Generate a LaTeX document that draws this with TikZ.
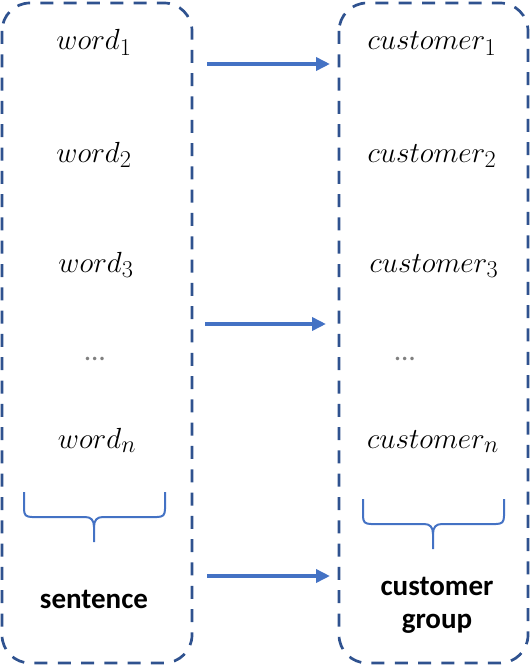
\documentclass[tikz,border=0pt]{standalone}
\usepackage{amsmath}
\usepackage{fontspec}
\newfontfamily\labelfont{Carlito}
\usetikzlibrary{arrows.meta}
\definecolor{boxblue}{HTML}{2F528F}
\definecolor{arrowblue}{HTML}{4472C4}

\begin{document}
\begin{tikzpicture}[x=1pt, y=-1pt,
groupbox/.style={boxblue, line width=2.7pt, dash pattern=on 13pt off 10.3pt, rounded corners=28pt},
maparrow/.style={arrowblue, line width=3.5pt, -{Triangle[length=14pt,width=13pt]}},
bracepath/.style={arrowblue, line width=2pt},
item/.style={font=\Huge, scale=1.17, inner sep=0pt, anchor=base},
dots/.style={font=\fontsize{29}{34}\selectfont\labelfont, text=gray, inner sep=0pt, anchor=base},
caption/.style={font=\fontsize{29}{33}\selectfont\labelfont\bfseries, align=center, inner sep=0pt, anchor=base}]

\useasboundingbox (0,0) rectangle (530,666);

% the two groups
\draw[groupbox] (2,3) rectangle (192,663);
\draw[groupbox] (339,3) rectangle (528,663);


\node[item] (w1) at (94,50) {$word_1$};
\node[item] (w2) at (94,162) {$word_2$};
\node[item] (w3) at (96,272) {$word_3$};
\node[dots] (wd) at (95,360) {…};
\node[item] (wn) at (97,448) {$word_n$};


\node[item] (c1) at (432,50) {$customer_1$};
\node[item] (c2) at (432,162) {$customer_2$};
\node[item] (c3) at (434,272) {$customer_3$};
\node[dots] (cd) at (405,360) {…};
\node[item] (cn) at (433,448) {$customer_n$};


% braces
\begin{scope}[shift={(24,492)}]
{
\draw[bracepath] (0,0)--(0,17) .. controls (0,23) and (2,25) .. (8,25)--(61,25) .. controls (67,25) and (70,28) .. (70,35)--(70,50);
\draw[bracepath] (141,0)--(141,17) .. controls (141,23) and (139,25) .. (133,25)--(79,25) .. controls (73,25) and (70,28) .. (70,35);
}
\end{scope}

\begin{scope}[shift={(363,499)}]
{
\draw[bracepath] (0,0)--(0,17) .. controls (0,23) and (2,25) .. (8,25)--(61,25) .. controls (67,25) and (70,28) .. (70,35)--(70,50);
\draw[bracepath] (141,0)--(141,17) .. controls (141,23) and (139,25) .. (133,25)--(79,25) .. controls (73,25) and (70,28) .. (70,35);
}
\end{scope}


\node[caption] (sent) at (94,608) {sentence};
\node[caption] (grp) at (437,628) {customer\\group};


% mapping arrows
\coordinate (s1) at (207,64);
\coordinate (t1) at (330,64);
\coordinate (s2) at (205,324);
\coordinate (t2) at (326,324);
\coordinate (s3) at (207,576);
\coordinate (t3) at (330,576);

\draw[maparrow] (s1)--(t1);
\draw[maparrow] (s2)--(t2);
\draw[maparrow] (s3)--(t3);

\end{tikzpicture}
\end{document}
